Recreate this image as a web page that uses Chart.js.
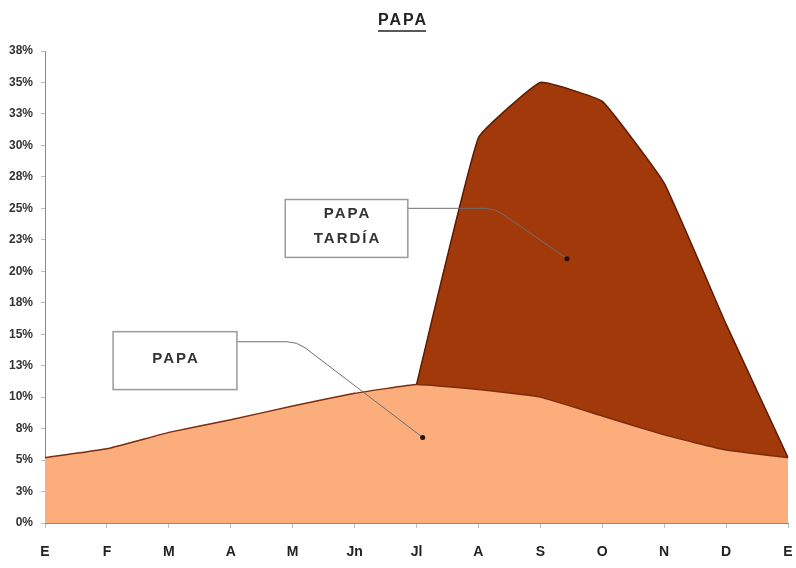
<!DOCTYPE html>
<html>
<head>
<meta charset="utf-8">
<script src="https://cdn.jsdelivr.net/npm/chart.js@4.4.1/dist/chart.umd.min.js"></script>
<style>
  html, body { margin: 0; padding: 0; background: #fff; }
</style>
</head>
<body>
<canvas id="myChart" width="796" height="568"></canvas>
<script>
const months = ["E", "F", "M", "A", "M", "Jn", "Jl", "A", "S", "O", "N", "D", "E"];
const papa = [5.2, 5.9, 7.2, 8.2, 9.3, 10.3, 11.0, 10.6, 10.0, 8.5, 7.0, 5.8, 5.2];
const papaTardia = [null, null, null, null, null, null, 0, 20, 25, 25, 20, 10, 0];
const yTickLabels = ["0%", "3%", "5%", "8%", "10%", "13%", "15%", "18%", "20%", "23%", "25%", "28%", "30%", "33%", "35%", "38%"];

// callouts in data space: box [x1, yTop, x2, yBottom], elbow and dot as [x index, value]
const callouts = [
  { lines: ["PAPA", "TARDÍA"], box: [3.88, 25.7, 5.86, 21.1], elbow: [7.27, 25.0], dot: [8.43, 21.0] },
  { lines: ["PAPA"], box: [1.10, 15.2, 3.10, 10.6], elbow: [4.07, 14.4], dot: [6.1, 6.8] },
];

const FONT = '"Liberation Sans", Arial, sans-serif';

const decorations = {
  id: "decorations",
  afterDatasetsDraw(chart) {
    const { ctx, scales } = chart;
    const x = scales.x, y = scales.y;
    ctx.save();
    callouts.forEach((c) => {
      const bx2 = x.getPixelForValue(c.box[2]);
      const ex = x.getPixelForValue(c.elbow[0]);
      const ey = y.getPixelForValue(c.elbow[1]);
      const dx = x.getPixelForValue(c.dot[0]);
      const dy = y.getPixelForValue(c.dot[1]);
      ctx.strokeStyle = "#6f6f6f";
      ctx.lineWidth = 1;
      ctx.beginPath();
      ctx.moveTo(bx2, ey);
      ctx.lineTo(ex - 10, ey);
      ctx.quadraticCurveTo(ex, ey, ex + 8, ey + 6);
      ctx.lineTo(dx, dy);
      ctx.stroke();
      ctx.fillStyle = "#2a0a00";
      ctx.beginPath();
      ctx.arc(dx, dy, 2.5, 0, Math.PI * 2);
      ctx.fill();
    });
    ctx.restore();
  },
  afterDraw(chart) {
    const { ctx, scales } = chart;
    const x = scales.x, y = scales.y;
    ctx.save();
    // title
    ctx.font = "bold 16px " + FONT;
    ctx.letterSpacing = "2px";
    ctx.fillStyle = "#222";
    ctx.textAlign = "left";
    ctx.textBaseline = "middle";
    const title = "PAPA";
    const tw = ctx.measureText(title).width - 2;
    const tx = chart.width / 2 + 4 - tw / 2;
    ctx.fillText(title, tx, 21);
    ctx.strokeStyle = "#222";
    ctx.lineWidth = 1.5;
    ctx.beginPath();
    ctx.moveTo(tx, 31);
    ctx.lineTo(tx + tw, 31);
    ctx.stroke();

    // callout boxes
    callouts.forEach((c) => {
      const x1 = x.getPixelForValue(c.box[0]);
      const y1 = y.getPixelForValue(c.box[1]);
      const x2 = x.getPixelForValue(c.box[2]);
      const y2 = y.getPixelForValue(c.box[3]);
      ctx.fillStyle = "#fff";
      ctx.fillRect(x1, y1, x2 - x1, y2 - y1);
      ctx.strokeStyle = "#9a9a9a";
      ctx.lineWidth = 1.5;
      ctx.strokeRect(x1, y1, x2 - x1, y2 - y1);
      ctx.fillStyle = "#333";
      ctx.font = "bold 15px " + FONT;
      ctx.letterSpacing = "2px";
      const lh = 25;
      const cy = (y1 + y2) / 2 - ((c.lines.length - 1) * lh) / 2 - 2;
      c.lines.forEach((t, i) => {
        const w = ctx.measureText(t).width - 2;
        ctx.fillText(t, (x1 + x2) / 2 - w / 2, cy + i * lh);
      });
    });
    ctx.restore();
  },
};

const data = {
  labels: months,
  datasets: [
    {
      label: "PAPA",
      data: papa,
      backgroundColor: "#fcad7c",
      borderColor: "#7b2d0e",
      borderWidth: 1.5,
      fill: "origin",
      pointRadius: 0,
      tension: 0.1,
    },
    {
      label: "PAPA TARDÍA",
      data: papaTardia,
      backgroundColor: "#a2390b",
      borderColor: "#5e1c02",
      borderWidth: 1.5,
      fill: "-1",
      pointRadius: 0,
      tension: 0.1,
    },
  ],
};

const config = {
  type: "line",
  data: data,
  options: {
    responsive: false,
    animation: false,
    layout: { padding: { top: 51, right: 8, left: 0, bottom: 0 } },
    plugins: { legend: { display: false }, tooltip: { enabled: false } },
    scales: {
      x: {
        offset: false,
        grid: { display: true, drawOnChartArea: false, tickLength: 5, color: "#bdbdbd" },
        border: { color: "#8a8a8a" },
        ticks: { color: "#222", font: { family: FONT, size: 14, weight: "bold" }, padding: 16, maxRotation: 0, autoSkip: false },
        afterFit(scale) {
          scale.height = 45;
          scale.paddingLeft = 0;
          scale.paddingRight = 0;
        },
      },
      y: {
        stacked: true,
        min: 0,
        max: 37.5,
        grid: { display: true, drawOnChartArea: false, tickLength: 4, color: "#bdbdbd" },
        border: { color: "#8a8a8a" },
        ticks: {
          stepSize: 2.5,
          color: "#333",
          font: { family: FONT, size: 12, weight: "bold" },
          padding: 8,
          callback: (v, i) => yTickLabels[i],
        },
        afterFit(scale) {
          scale.width = 45;
          scale.paddingTop = 0;
          scale.paddingBottom = 0;
        },
      },
    },
  },
  plugins: [decorations],
};

const ctx = document.getElementById("myChart").getContext("2d");
new Chart(ctx, config);
</script>
</body>
</html>
